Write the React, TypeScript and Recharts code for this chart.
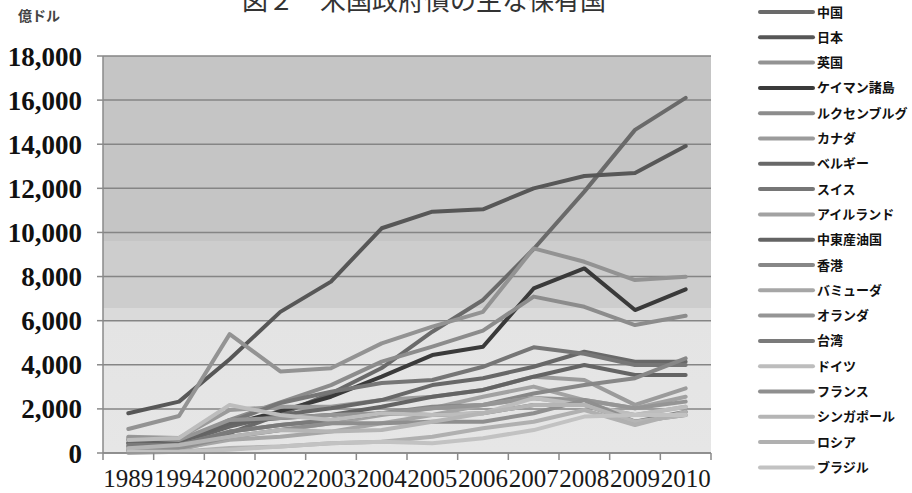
import { LineChart, Line, XAxis, YAxis, CartesianGrid } from 'recharts'

const YEARS = ['1989', '1994', '2000', '2002', '2003', '2004', '2005', '2006', '2007', '2008', '2009', '2010']
const Y_TICKS = [0, 2000, 4000, 6000, 8000, 10000, 12000, 14000, 16000, 18000]

// 保有額（億ドル）
const CHINA = [100, 200, 900, 1750, 2700, 3850, 5500, 6940, 9250, 11850, 14650, 16100]
const JAPAN = [1800, 2330, 4250, 6400, 7770, 10190, 10940, 11050, 12000, 12560, 12700, 13920]
const UK = [1090, 1680, 5390, 3700, 3840, 4970, 5730, 6400, 9280, 8670, 7840, 7990]
const CAYMAN = [450, 500, 1300, 1900, 2550, 3460, 4440, 4820, 7460, 8370, 6480, 7420]
const LUXEMBOURG = [300, 400, 1500, 2300, 3080, 4140, 4820, 5550, 7090, 6630, 5800, 6220]
const CANADA = [740, 680, 1950, 2100, 2100, 2400, 2550, 2860, 3460, 3310, 2180, 2930]
const BELGIUM = [450, 450, 1200, 1720, 2030, 2400, 3080, 3390, 3910, 4590, 4140, 4140]
const SWISS = [600, 500, 1400, 2270, 2780, 3170, 3310, 3910, 4790, 4500, 3990, 3990]
const IRELAND = [100, 150, 700, 1040, 1350, 1720, 2030, 2550, 3010, 2400, 2030, 2550]
const OIL_EXPORTERS = [600, 450, 1360, 1590, 1720, 2100, 2550, 2860, 3460, 3990, 3540, 3540]
const HONGKONG = [300, 360, 970, 1270, 1500, 1800, 2100, 2180, 2700, 3080, 3390, 4290]
const BERMUDA = [150, 200, 600, 740, 970, 1350, 1720, 2180, 2490, 2180, 1720, 2100]
const NETHERLANDS = [700, 590, 1500, 1590, 1720, 1800, 2030, 2180, 2490, 2400, 2030, 2330]
const TAIWAN = [360, 360, 970, 1270, 1500, 1800, 1720, 1800, 2180, 2180, 1420, 1870]
const GERMANY = [590, 680, 2180, 1720, 1500, 1800, 1720, 1800, 2490, 2180, 1720, 2100]
const FRANCE = [210, 230, 740, 1040, 1350, 1350, 1420, 1420, 1800, 2400, 1420, 1720]
const SINGAPORE = [210, 360, 740, 1040, 970, 1040, 1420, 1800, 2180, 2180, 1420, 1720]
const RUSSIA = [0, 60, 230, 290, 440, 510, 740, 1120, 1420, 1950, 1270, 1870]
const BRAZIL = [60, 60, 150, 290, 440, 510, 440, 670, 1040, 1650, 1720, 1720]

const SERIES = [
  { name: '中国', color: '#6a6a6a', values: CHINA },
  { name: '日本', color: '#575757', values: JAPAN },
  { name: '英国', color: '#939393', values: UK },
  { name: 'ケイマン諸島', color: '#3a3a3a', values: CAYMAN },
  { name: 'ルクセンブルグ', color: '#8c8c8c', values: LUXEMBOURG },
  { name: 'カナダ', color: '#9b9b9b', values: CANADA },
  { name: 'ベルギー', color: '#686868', values: BELGIUM },
  { name: 'スイス', color: '#767676', values: SWISS },
  { name: 'アイルランド', color: '#a2a2a2', values: IRELAND },
  { name: '中東産油国', color: '#646464', values: OIL_EXPORTERS },
  { name: '香港', color: '#878787', values: HONGKONG },
  { name: 'バミューダ', color: '#a6a6a6', values: BERMUDA },
  { name: 'オランダ', color: '#959595', values: NETHERLANDS },
  { name: '台湾', color: '#7a7a7a', values: TAIWAN },
  { name: 'ドイツ', color: '#bdbdbd', values: GERMANY },
  { name: 'フランス', color: '#8f8f8f', values: FRANCE },
  { name: 'シンガポール', color: '#b5b5b5', values: SINGAPORE },
  { name: 'ロシア', color: '#b0b0b0', values: RUSSIA },
  { name: 'ブラジル', color: '#c2c2c2', values: BRAZIL },
]

const data = YEARS.map((year, i) => {
  const row: Record<string, string | number> = { year }
  SERIES.forEach((s) => { row[s.name] = s.values[i] })
  return row
})

const W = 912
const H = 493
const PLOT_LEFT = 103
const PLOT_RIGHT = 711
const STEP = (PLOT_RIGHT - PLOT_LEFT) / YEARS.length

// year label centred in its slot, tick marks on the slot boundaries
const YearTick = ({ x, y, payload, index }: any) => (
  <g>
    <line x1={x - STEP / 2} x2={x - STEP / 2} y1={y} y2={y + 7} stroke="#8a8a8a" strokeWidth={1.5} />
    {index === YEARS.length - 1 && (
      <line x1={x + STEP / 2} x2={x + STEP / 2} y1={y} y2={y + 7} stroke="#8a8a8a" strokeWidth={1.5} />
    )}
    <text x={x} y={y + 34} textAnchor="middle" fontFamily="'Liberation Serif', serif" fontSize={25} fill="#1a1a1a">
      {payload.value}
    </text>
  </g>
)

const fmt = (v: number) => v.toLocaleString('en-US')

export default function App() {
  return (
    <div style={{ position: 'absolute', left: 0, top: 0, width: W, height: H, background: '#fff', overflow: 'hidden' }}>
      <LineChart width={W} height={H} data={data} margin={{ top: 56, right: W - PLOT_RIGHT, bottom: 0, left: 0 }}>
        <defs>
          <linearGradient id="plotBg" x1="0" y1="0" x2="0" y2="1">
            <stop offset="0" stopColor="#c5c5c5" />
            <stop offset="0.467" stopColor="#c5c5c5" />
            <stop offset="0.467" stopColor="#cdcdcd" />
            <stop offset="0.635" stopColor="#cdcdcd" />
            <stop offset="0.635" stopColor="#dadada" />
            <stop offset="0.668" stopColor="#dadada" />
            <stop offset="0.668" stopColor="#e4e4e4" />
            <stop offset="1" stopColor="#e6e6e6" />
          </linearGradient>
        </defs>
        <CartesianGrid vertical={false} stroke="#858585" strokeWidth={1.5} fill="url(#plotBg)" />
        <XAxis
          dataKey="year"
          height={40}
          interval={0}
          padding={{ left: STEP / 2, right: STEP / 2 }}
          tickLine={false}
          tickSize={0}
          tickMargin={0}
          axisLine={{ stroke: '#8a8a8a', strokeWidth: 1.5 }}
          tick={<YearTick />}
        />
        <YAxis
          width={PLOT_LEFT}
          domain={[0, 18000]}
          ticks={Y_TICKS}
          interval={0}
          tickFormatter={fmt}
          tickSize={6}
          tickMargin={15}
          axisLine={{ stroke: '#8a8a8a', strokeWidth: 1.5 }}
          tickLine={{ stroke: '#8a8a8a', strokeWidth: 1.5 }}
          tick={{ fontFamily: "'Liberation Serif', serif", fontSize: 27, fontWeight: 700, fill: '#111' }}
        />
        {SERIES.map((s) => (
          <Line
            key={s.name}
            type="linear"
            dataKey={s.name}
            stroke={s.color}
            strokeWidth={4}
            strokeLinejoin="round"
            strokeLinecap="round"
            dot={false}
            isAnimationActive={false}
          />
        ))}
      </LineChart>

      <svg width={W} height={H} style={{ position: 'absolute', left: 0, top: 0, pointerEvents: 'none' }}>
        <text x={424} y={10} textAnchor="middle" fontFamily="'Noto Sans CJK JP', sans-serif" fontSize={26} fill="#333">
          図２　米国政府債の主な保有国
        </text>
        <text x={18} y={21} fontFamily="'Noto Sans CJK JP', sans-serif" fontSize={14} fontWeight={700} fill="#444">
          億ドル
        </text>
        {SERIES.map((s, i) => {
          const cy = 12 + i * 25.3
          return (
            <g key={s.name}>
              <line x1={760} x2={813} y1={cy} y2={cy} stroke={s.color} strokeWidth={4} strokeLinecap="round" />
              <text x={817} y={cy + 4.5} fontFamily="'Noto Sans CJK JP', sans-serif" fontSize={13} fontWeight={700} fill="#111">
                {s.name}
              </text>
            </g>
          )
        })}
      </svg>
    </div>
  )
}
